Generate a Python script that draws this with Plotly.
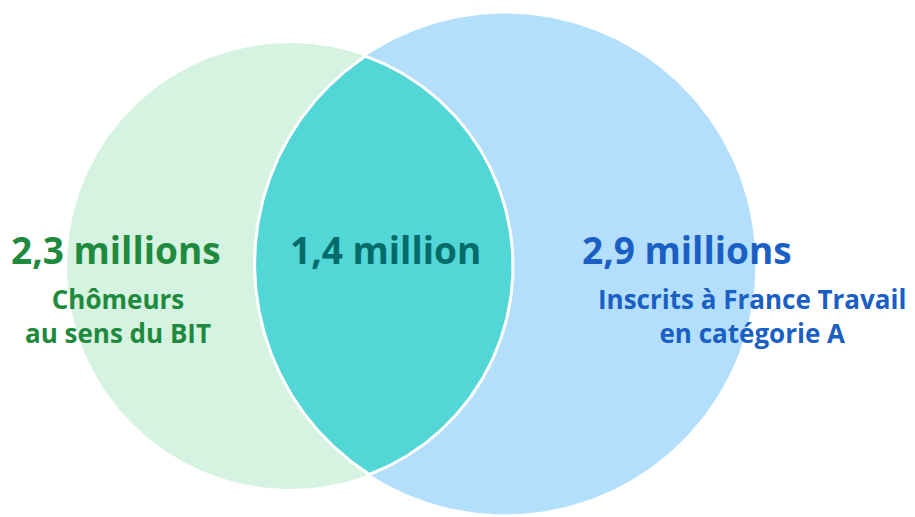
import numpy as np
import plotly.graph_objects as go

# ---- data ----
set_names = ["Chômeurs<br>au sens du BIT", "Inscrits à France Travail<br>en catégorie A"]
set_totals = [2.3, 2.9]            # millions
overlap_value = 1.4                # millions
value_labels = ["2,3 millions", "2,9 millions"]
overlap_label = "1,4 million"

# ---- layout constants ----
W, H = 915, 517
centers = [(290.0, 266.0), (505.0, 264.0)]
scale = 223.0 / np.sqrt(set_totals[0])
radii = [scale * np.sqrt(v) for v in set_totals]

fill_colors = ["#d6f2e0", "#b3defc"]
text_colors = ["#1e8a3e", "#1a5fc4"]
lens_color = "#52d6d6"
lens_text = "#046b6b"
FONT = "Open Sans"

fig = go.Figure()

def circle_pts(c, r, t):
    return c[0] + r * np.cos(t), c[1] + r * np.sin(t)

# right circle first, then left
for i in [1, 0]:
    t = np.linspace(0, 2 * np.pi, 400)
    x, y = circle_pts(centers[i], radii[i], t)
    fig.add_trace(go.Scatter(x=x, y=y, mode="lines", fill="toself",
                             fillcolor=fill_colors[i], line=dict(width=0, color=fill_colors[i]),
                             hoverinfo="skip", showlegend=False))

# lens (intersection) computed from the two circles
(x1, y1), (x2, y2) = centers
r1, r2 = radii
d = np.hypot(x2 - x1, y2 - y1)
a = (d**2 + r1**2 - r2**2) / (2 * d)
h = np.sqrt(r1**2 - a**2)
ux, uy = (x2 - x1) / d, (y2 - y1) / d
px, py = x1 + a * ux, y1 + a * uy
pA = (px + h * uy, py - h * ux)   # top
pB = (px - h * uy, py + h * ux)   # bottom

def ang(c, p):
    return np.arctan2(p[1] - c[1], p[0] - c[0])

a1s, a1e = ang(centers[0], pA), ang(centers[0], pB)
if a1e < a1s:
    a1e += 2 * np.pi
t1 = np.linspace(a1s, a1e, 200)
lx1, ly1 = circle_pts(centers[0], r1, t1)
a2s, a2e = ang(centers[1], pB), ang(centers[1], pA)
if a2e < a2s:
    a2e += 2 * np.pi
t2 = np.linspace(a2s, a2e, 200)
lx2, ly2 = circle_pts(centers[1], r2, t2)
lx = np.concatenate([lx1, lx2, lx1[:1]])
ly = np.concatenate([ly1, ly2, ly1[:1]])
fig.add_trace(go.Scatter(x=lx, y=ly, mode="lines", fill="toself",
                         fillcolor=lens_color, line=dict(width=3, color="white"),
                         hoverinfo="skip", showlegend=False))

# ---- texts ----
big_pos = [(116, 249), (687, 249)]
sub_pos = [(118, 316), (752, 316)]
for i in range(2):
    fig.add_annotation(x=big_pos[i][0], y=big_pos[i][1], text=f"<b>{value_labels[i]}</b>",
                       showarrow=False, xanchor="center", yanchor="middle",
                       font=dict(family=FONT, size=37, color=text_colors[i]))
    fig.add_annotation(x=sub_pos[i][0], y=sub_pos[i][1], text=f"<b>{set_names[i]}</b>",
                       showarrow=False, xanchor="center", yanchor="middle", align="center",
                       font=dict(family=FONT, size=26, color=text_colors[i]))
fig.add_annotation(x=385, y=249, text=f"<b>{overlap_label}</b>", showarrow=False,
                   xanchor="center", yanchor="middle",
                   font=dict(family=FONT, size=37, color=lens_text))

fig.update_layout(
    width=W, height=H, margin=dict(l=0, r=0, t=0, b=0),
    paper_bgcolor="white", plot_bgcolor="white",
    xaxis=dict(range=[0, W], visible=False, fixedrange=True),
    yaxis=dict(range=[H, 0], visible=False, fixedrange=True),
    showlegend=False,
)
fig.write_html("out.html", config={"displayModeBar": False},
               post_script="document.body.style.margin='0';document.body.style.overflow='hidden';")
